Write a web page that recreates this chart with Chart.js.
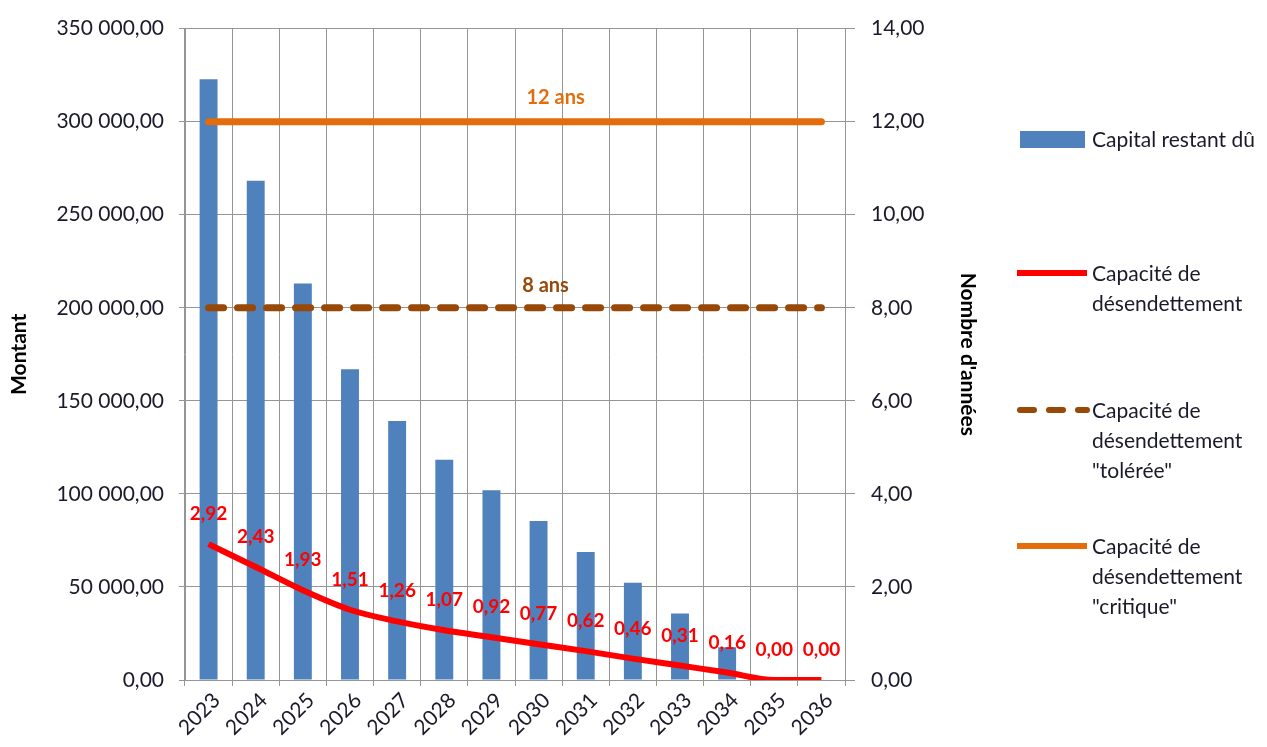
<!DOCTYPE html>
<html>
<head>
<meta charset="utf-8">
<script src="https://cdn.jsdelivr.net/npm/chart.js@4/dist/chart.umd.min.js"></script>
<style>
  html, body { margin: 0; background: #fff; }
  #cadre { width: 1267px; height: 747px; }
</style>
</head>
<body>
<div id="cadre"><canvas id="grafico"></canvas></div>
<script>
// Données
const annees = ['2023', '2024', '2025', '2026', '2027', '2028', '2029', '2030', '2031', '2032', '2033', '2034', '2035', '2036'];
const capitalRestant = [322800, 268200, 213000, 167000, 139200, 118400, 101900, 85400, 68800, 52300, 35700, 17600, 0, 0];
const capacite = [2.92, 2.43, 1.93, 1.51, 1.26, 1.07, 0.92, 0.77, 0.62, 0.46, 0.31, 0.16, 0.00, 0.00];
const seuilToleree = [8, 8, 8, 8, 8, 8, 8, 8, 8, 8, 8, 8, 8, 8];
const seuilCritique = [12, 12, 12, 12, 12, 12, 12, 12, 12, 12, 12, 12, 12, 12];
const etiquettesSeuils = ['8 ans', '12 ans'];
const legendeTextes = [
  ['Capital restant dû'],
  ['Capacité de', 'désendettement'],
  ['Capacité de', 'désendettement', '"tolérée"'],
  ['Capacité de', 'désendettement', '"critique"']
];

const BLEU = '#4F81BD';
const ROUGE = '#FF0000';
const MARRON = '#984807';
const ORANGE = '#E46C0A';
const GRILLE = '#959595';
const TEXTE = '#1a1a2a';

Chart.defaults.font.family = 'Lato';
Chart.defaults.color = TEXTE;

// format français : 350 000,00
function fmt(v) {
  const parts = Number(v).toFixed(2).split('.');
  parts[0] = parts[0].replace(/\B(?=(\d{3})+(?!\d))/g, ' ');
  return parts[0] + ',' + parts[1];
}

const etiquettes = {
  id: 'etiquettes',
  afterDatasetsDraw(chart) {
    const ctx = chart.ctx;
    ctx.save();
    ctx.textAlign = 'center';
    ctx.textBaseline = 'middle';

    // valeurs de la capacité de désendettement
    ctx.font = 'bold 19px Lato';
    ctx.fillStyle = ROUGE;
    chart.getDatasetMeta(0).data.forEach((pt, i) => {
      ctx.fillText(fmt(capacite[i]), pt.x, pt.y - 30);
    });

    // étiquettes des seuils
    ctx.font = 'bold 20px Lato';
    const pTol = chart.getDatasetMeta(1).data[7];
    ctx.fillStyle = MARRON;
    ctx.fillText(etiquettesSeuils[0], pTol.x + 7, pTol.y - 22);
    const pCrit = chart.getDatasetMeta(2).data[7];
    ctx.fillStyle = ORANGE;
    ctx.fillText(etiquettesSeuils[1], pCrit.x + 17, pCrit.y - 24);
    ctx.restore();
  },
  afterDraw(chart) {
    // légende à droite
    const ctx = chart.ctx;
    const x0 = chart.chartArea.right + 172;
    const tx = x0 + 75;
    const haut = [139, 273, 410, 546];
    ctx.save();
    ctx.font = '21px Lato';
    ctx.textBaseline = 'middle';
    ctx.textAlign = 'left';

    ctx.fillStyle = BLEU;
    ctx.fillRect(x0 + 3, haut[0] - 8, 65, 17);

    const traits = [
      { c: ROUGE, dash: [] },
      { c: MARRON, dash: [14, 15] },
      { c: ORANGE, dash: [] }
    ];
    traits.forEach((t, i) => {
      ctx.beginPath();
      ctx.strokeStyle = t.c;
      ctx.lineWidth = 6;
      ctx.lineCap = t.dash.length ? 'round' : 'butt';
      ctx.setLineDash(t.dash);
      ctx.moveTo(x0 + (t.dash.length ? 3 : 0), haut[i + 1]);
      ctx.lineTo(x0 + 70, haut[i + 1]);
      ctx.stroke();
    });
    ctx.setLineDash([]);

    ctx.fillStyle = TEXTE;
    legendeTextes.forEach((lignes, i) => {
      lignes.forEach((l, j) => ctx.fillText(l, tx, haut[i] + j * 30 + 1));
    });
    ctx.restore();
  }
};

new Chart(document.getElementById('grafico'), {
  type: 'bar',
  data: {
    labels: annees,
    datasets: [
      {
        type: 'line',
        label: 'Capacité de désendettement',
        data: capacite,
        yAxisID: 'y2',
        borderColor: ROUGE,
        borderWidth: 6,
        pointRadius: 0,
        cubicInterpolationMode: 'monotone',
        order: 0
      },
      {
        type: 'line',
        label: 'Capacité de désendettement "tolérée"',
        data: seuilToleree,
        yAxisID: 'y2',
        borderColor: MARRON,
        borderWidth: 7,
        borderDash: [15, 14],
        borderCapStyle: 'round',
        pointRadius: 0,
        order: 1
      },
      {
        type: 'line',
        label: 'Capacité de désendettement "critique"',
        data: seuilCritique,
        yAxisID: 'y2',
        borderColor: ORANGE,
        borderWidth: 7,
        borderCapStyle: 'round',
        pointRadius: 0,
        order: 2
      },
      {
        label: 'Capital restant dû',
        data: capitalRestant,
        yAxisID: 'y',
        backgroundColor: BLEU,
        categoryPercentage: 1,
        barPercentage: 0.38,
        order: 3
      }
    ]
  },
  options: {
    responsive: true,
    maintainAspectRatio: false,
    animation: false,
    layout: { padding: { top: 18, right: 287, bottom: 0, left: 0 } },
    plugins: {
      legend: { display: false },
      tooltip: { enabled: false }
    },
    scales: {
      x: {
        offset: true,
        grid: { color: GRILLE, offset: true, tickLength: 6 },
        border: { color: GRILLE },
        ticks: { minRotation: 45, maxRotation: 45, font: { size: 21 }, padding: 2, labelOffset: 8, color: TEXTE },
        afterFit: s => { s.height = 67; }
      },
      y: {
        position: 'left',
        min: 0,
        max: 350000,
        grid: { color: GRILLE, tickLength: 6 },
        border: { color: GRILLE },
        ticks: { stepSize: 50000, callback: v => fmt(v), font: { size: 21 }, padding: 15, color: TEXTE },
        title: { display: true, text: 'Montant', font: { size: 21, weight: 'bold' }, padding: { top: 7, bottom: 0 }, color: '#000' },
        afterFit: s => { s.width = 185; }
      },
      y2: {
        position: 'right',
        min: 0,
        max: 14,
        grid: { drawOnChartArea: false, color: GRILLE, tickLength: 10 },
        border: { color: GRILLE },
        ticks: { stepSize: 2, callback: v => fmt(v), font: { size: 21 }, padding: 16, color: TEXTE },
        title: { display: true, text: "Nombre d'années", font: { size: 21, weight: 'bold' }, padding: { top: 0, bottom: 0 }, color: '#000' },
        afterFit: s => { s.width = 135; }
      }
    }
  },
  plugins: [etiquettes]
});
</script>
</body>
</html>
